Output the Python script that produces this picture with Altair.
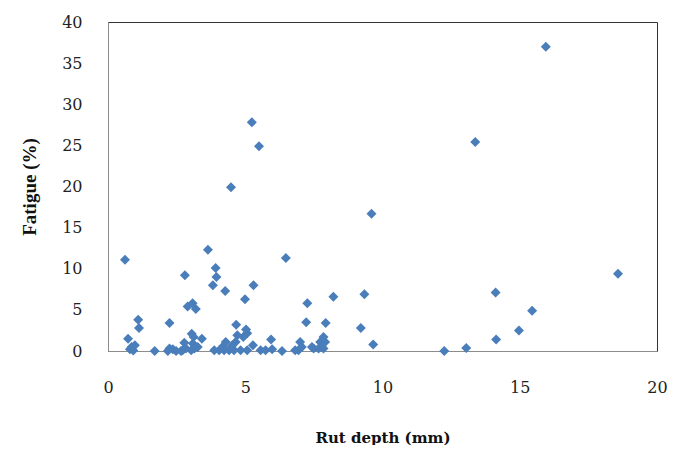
import altair as alt
import pandas as pd

rut_depth = [0.62, 0.73, 0.80, 0.86, 0.92, 0.98, 1.10, 1.13, 1.70, 2.18,
             2.24, 2.24, 2.36, 2.48, 2.66, 2.72, 2.78, 2.80, 2.84, 2.90,
             3.03, 3.05, 3.08, 3.09, 3.12, 3.15, 3.20, 3.27, 3.42, 3.64,
             3.82, 3.87, 3.92, 3.95, 4.05, 4.20, 4.23, 4.27, 4.29, 4.41,
             4.47, 4.48, 4.53, 4.59, 4.65, 4.67, 4.71, 4.83, 4.93, 4.99,
             5.03, 5.07, 5.07, 5.24, 5.28, 5.30, 5.50, 5.56, 5.74, 5.94,
             5.98, 6.34, 6.48, 6.82, 6.94, 7.00, 7.06, 7.22, 7.26, 7.43,
             7.49, 7.67, 7.73, 7.79, 7.85, 7.85, 7.93, 7.91, 8.21, 9.21,
             9.34, 9.60, 9.66, 12.25, 13.05, 13.38, 14.12, 14.14, 14.97, 15.45,
             15.95, 18.58]
fatigue = [11.1, 1.5, 0.2, 0.5, 0.05, 0.7, 3.8, 2.8, 0.0, 0.0,
           3.4, 0.3, 0.2, 0.0, 0.0, 0.1, 1.0, 9.2, 0.3, 5.4,
           0.1, 2.1, 5.8, 0.9, 1.7, 0.3, 5.1, 0.5, 1.5, 12.3,
           8.0, 0.1, 10.1, 9.0, 0.1, 0.6, 0.1, 7.3, 1.1, 0.1,
           0.3, 19.9, 0.7, 0.1, 1.1, 3.2, 1.9, 0.1, 1.7, 6.3,
           2.6, 2.15, 0.1, 27.8, 0.7, 8.0, 24.9, 0.1, 0.1, 1.4,
           0.2, 0.0, 11.3, 0.1, 0.1, 1.1, 0.5, 3.5, 5.8, 0.5,
           0.3, 0.3, 1.1, 0.5, 1.7, 0.3, 3.4, 1.1, 6.6, 2.8,
           6.9, 16.7, 0.8, 0.0, 0.35, 25.4, 7.1, 1.4, 2.5, 4.9,
           37.0, 9.4]

x_ticks = [0, 5, 10, 15, 20]
y_ticks = [0, 5, 10, 15, 20, 25, 30, 35, 40]

df = pd.DataFrame({"rut": rut_depth, "fatigue": fatigue})

chart = alt.Chart(df).mark_point(
    shape="diamond", filled=True, size=100, color="#4A7EBB", opacity=1
).encode(
    x=alt.X("rut:Q", scale=alt.Scale(domain=[0, 20], nice=False),
            axis=alt.Axis(values=x_ticks, title="Rut depth (mm)", grid=False,
                          ticks=False, labelPadding=28, titlePadding=35,
                          labelFont="DejaVu Serif", labelFontSize=16,
                          labelColor="#222", labelFontWeight="normal",
                          titleFont="DejaVu Serif", titleFontSize=15,
                          titleFontWeight="bold", titleColor="#111",
                          domainColor="#8c8c8c", labelFlush=False)),
    y=alt.Y("fatigue:Q", scale=alt.Scale(domain=[0, 40], nice=False),
            axis=alt.Axis(values=y_ticks, title="Fatigue (%)", grid=False,
                          ticks=False, labelPadding=26, titlePadding=22,
                          labelFont="DejaVu Serif", labelFontSize=16,
                          labelColor="#222",
                          titleFont="Liberation Serif", titleFontSize=19,
                          titleFontWeight="bold", titleColor="#111",
                          domainColor="#8c8c8c", labelFlush=False)),
).properties(
    width=549, height=329,
    autosize=alt.AutoSizeParams(type="none"),
    padding={"left": 100, "top": 14, "right": 13, "bottom": 94},
).configure_view(stroke="#333", strokeWidth=1)

chart.save("out.html", embed_options={"renderer": "svg", "actions": False})
